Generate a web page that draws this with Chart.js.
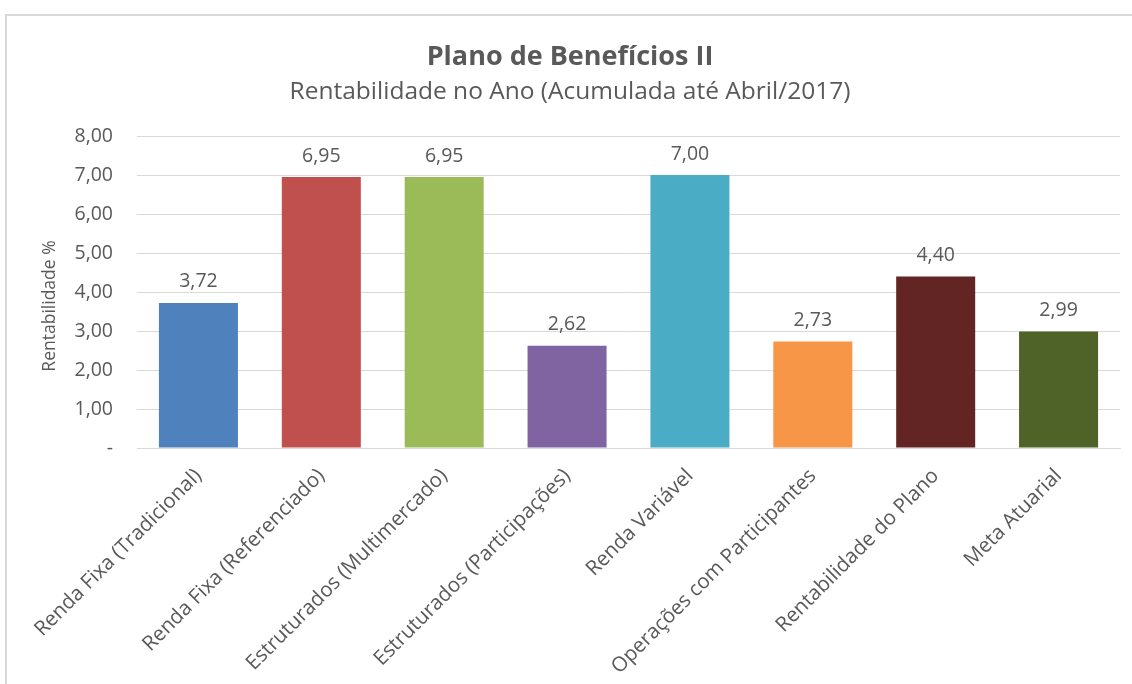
<!DOCTYPE html>
<html><head><meta charset="utf-8">
<script src="https://cdn.jsdelivr.net/npm/chart.js@4.4.1/dist/chart.umd.min.js"></script>
<style>html,body{margin:0;padding:0;background:#fff;overflow:hidden}</style>
</head><body>
<canvas id="c" width="1132" height="684" style="display:block;width:1132px;height:684px"></canvas>
<script>
const categories = [
  'Renda Fixa (Tradicional)',
  'Renda Fixa (Referenciado)',
  'Estruturados (Multimercado)',
  'Estruturados (Participações)',
  'Renda Variável',
  'Operações com Participantes',
  'Rentabilidade do Plano',
  'Meta Atuarial'
];
const values = [3.72, 6.95, 6.95, 2.62, 7.00, 2.73, 4.40, 2.99];
const barColors = ['#4F81BD', '#C0504D', '#9BBB59', '#8064A2', '#4BACC6', '#F79646', '#632523', '#4F6228'];
const yTickValues = [0, 1, 2, 3, 4, 5, 6, 7, 8];
const yAxisTitle = 'Rentabilidade %';

const FONT = "'Open Sans', sans-serif";
const TXT = '#595959';
const fmt = v => v === 0 ? '-' : v.toFixed(2).replace('.', ',');

const framePlugin = {
  id: 'frame',
  beforeDraw(chart) {
    const ctx = chart.ctx;
    ctx.save();
    ctx.fillStyle = '#fff';
    ctx.fillRect(0, 0, chart.width, chart.height);
    ctx.strokeStyle = '#d9d9d9';
    ctx.lineWidth = 2;
    ctx.strokeRect(6, 15, chart.width + 20, chart.height + 20);
    ctx.restore();
  }
};

const labelPlugin = {
  id: 'barLabels',
  afterDatasetsDraw(chart) {
    const ctx = chart.ctx;
    const meta = chart.getDatasetMeta(0);
    ctx.save();
    ctx.font = '19.5px ' + FONT;
    ctx.fillStyle = TXT;
    ctx.textAlign = 'center';
    ctx.textBaseline = 'middle';
    meta.data.forEach((bar, i) => {
      ctx.fillText(fmt(values[i]), bar.x, bar.y - 21);
    });
    // y axis title (offset like the original)
    const area = chart.chartArea;
    ctx.font = '17.5px ' + FONT;
    ctx.translate(50, (area.top + area.bottom) / 2 + 14);
    ctx.rotate(-Math.PI / 2);
    ctx.fillText(yAxisTitle, 0, 0);
    ctx.restore();
  }
};

new Chart(document.getElementById('c'), {
  type: 'bar',
  data: {
    labels: categories,
    datasets: [{
      data: values,
      backgroundColor: barColors,
      borderWidth: 0,
      barPercentage: 0.643,
      categoryPercentage: 1
    }]
  },
  options: {
    responsive: false,
    animation: false,
    devicePixelRatio: 1,
    layout: { padding: { left: 20, top: 43.5, right: 12, bottom: 0 } },
    plugins: {
      legend: { display: false },
      tooltip: { enabled: false },
      title: {
        display: true,
        text: 'Plano de Benefícios II',
        color: TXT,
        font: { family: FONT, size: 27, weight: 'bold', lineHeight: 1.0 },
        padding: { top: 0, bottom: 9 }
      },
      subtitle: {
        display: true,
        text: 'Rentabilidade no Ano (Acumulada até Abril/2017)',
        color: TXT,
        font: { family: FONT, size: 24.5, lineHeight: 1.0 },
        padding: { top: 0, bottom: 32 }
      }
    },
    scales: {
      x: {
        grid: { display: false },
        border: { color: '#d9d9d9' },
        ticks: {
          color: TXT,
          font: { family: FONT, size: 20.5 },
          minRotation: 45,
          maxRotation: 45,
          autoSkip: false,
          padding: 8
        },
        afterFit(s) { s.height = 684 - 448; }
      },
      y: {
        min: 0,
        max: 8,
        afterBuildTicks(s) { s.ticks = yTickValues.map(v => ({ value: v })); },
        grid: { color: '#d9d9d9', lineWidth: 1, drawTicks: false },
        border: { display: false },
        ticks: {
          color: TXT,
          font: { family: FONT, size: 19.5 },
          padding: 24,
          callback: v => fmt(v)
        },
        afterFit(s) { s.width = 117; }
      }
    }
  },
  plugins: [framePlugin, labelPlugin]
});
</script>
</body></html>
